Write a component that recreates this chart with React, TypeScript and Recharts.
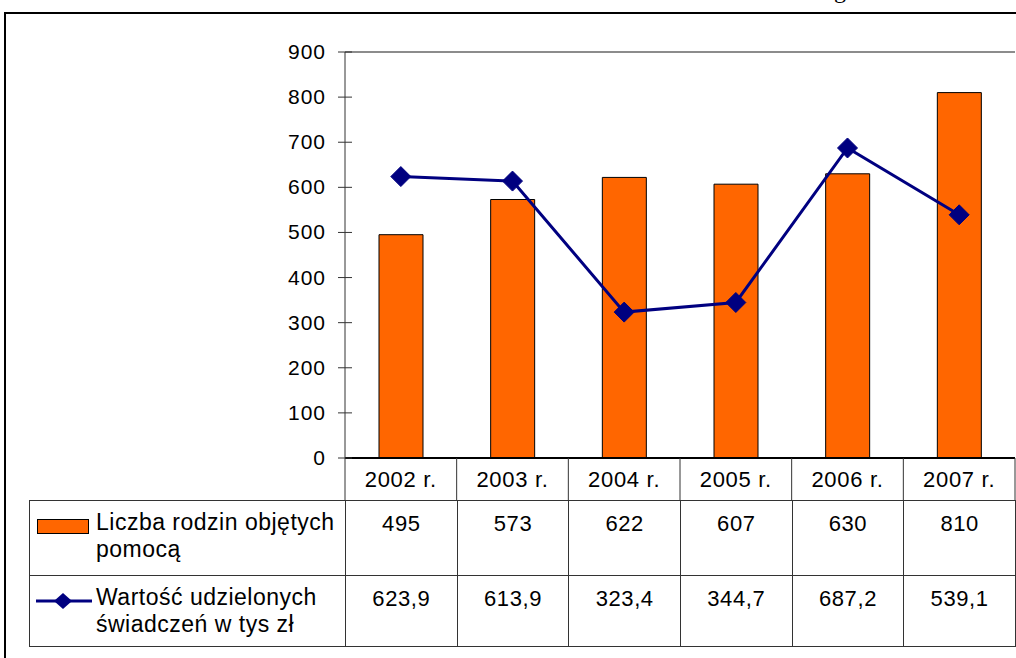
import { Bar, ComposedChart, Line, ReferenceLine, XAxis, YAxis } from "recharts";

const years = ["2002 r.", "2003 r.", "2004 r.", "2005 r.", "2006 r.", "2007 r."];
const families = [495, 573, 622, 607, 630, 810];
const benefits = [623.9, 613.9, 323.4, 344.7, 687.2, 539.1];
const yTicks = [0, 100, 200, 300, 400, 500, 600, 700, 800, 900];

const familiesName = "Liczba rodzin objętych pomocą";
const benefitsName = "Wartość udzielonych świadczeń w tys zł";

const data = years.map((year, i) => ({ year, families: families[i], benefits: benefits[i] }));

const W = 1016;
const H = 658;
const plotLeft = 345;
const plotTop = 52;
const plotBottom = 458;
const plotRight = 1015;
const colW = (plotRight - plotLeft) / years.length;
const font = "'Liberation Sans', Arial, sans-serif";
const orange = "#FF6600";
const navy = "#000080";
const gridInk = "#333";

const fmtPl = (n: number) => n.toFixed(1).replace(".", ",");

function YTick({ x, y, payload }: any) {
  return (
    <g>
      <line x1={x - 7} x2={x + 7} y1={y} y2={y} stroke={gridInk} strokeWidth={1} />
      <text
        x={x - 19}
        y={y + 7}
        textAnchor="end"
        fontSize={21}
        letterSpacing={1}
        fontFamily={font}
        fill="#000"
      >
        {payload.value}
      </text>
    </g>
  );
}

// rok + pionowe kreski tabeli danych w wierszu nagłówka
function XTick({ x, y, payload, index }: any) {
  return (
    <g>
      {index === 0 ? (
        <line x1={x - colW / 2} x2={x - colW / 2} y1={y} y2={y + 42} stroke={gridInk} strokeWidth={1} />
      ) : null}
      <line x1={x + colW / 2} x2={x + colW / 2} y1={y} y2={y + 42} stroke={gridInk} strokeWidth={1} />
      <text
        x={x}
        y={y + 29}
        textAnchor="middle"
        fontSize={22}
        letterSpacing={0.7}
        fontFamily={font}
        fill="#000"
      >
        {payload.value}
      </text>
    </g>
  );
}

function Diamond({ cx, cy, index }: any) {
  if (cx == null || cy == null) return <g key={index} />;
  const r = 10;
  return (
    <polygon
      key={index}
      points={`${cx},${cy - r} ${cx + r},${cy} ${cx},${cy + r} ${cx - r},${cy}`}
      fill={navy}
      stroke={navy}
    />
  );
}

const cell: React.CSSProperties = {
  border: `1px solid ${gridInk}`,
  textAlign: "center",
  verticalAlign: "top",
  paddingTop: 9,
  fontSize: 22,
  letterSpacing: 0.6,
  lineHeight: "27px",
};

const legendCell: React.CSSProperties = {
  ...cell,
  textAlign: "left",
  position: "relative",
  paddingLeft: 66,
  paddingTop: 8,
  fontSize: 23,
  letterSpacing: 0.5,
  whiteSpace: "nowrap",
};

export default function App() {
  return (
    <div style={{ position: "relative", width: W, height: H, overflow: "hidden", fontFamily: font }}>
      <style>{`html,body{margin:0;overflow:hidden;background:#fff}`}</style>

      {/* ucięty tekst dokumentu nad ramką */}
      <div
        style={{
          position: "absolute", left: 834, top: -22, fontSize: 24, lineHeight: "24px",
          fontFamily: "'Liberation Serif', 'Times New Roman', serif",
        }}
      >
        g
      </div>

      {/* ramka wykresu */}
      <div
        style={{
          position: "absolute", left: 4, top: 12, width: 1100, height: 700,
          border: "2px solid #000", boxSizing: "border-box",
        }}
      />

      <div style={{ position: "absolute", left: 0, top: 0 }}>
        <ComposedChart width={W} height={H} data={data} margin={{ top: plotTop, right: W - plotRight, bottom: 0, left: 0 }}>
          <XAxis
            dataKey="year"
            height={H - plotBottom}
            tickLine={false}
            tickSize={0}
            tickMargin={0}
            interval={0}
            axisLine={{ stroke: "#000", strokeWidth: 2 }}
            tick={<XTick />}
          />
          <YAxis
            width={plotLeft}
            domain={[0, 900]}
            ticks={yTicks}
            interval={0}
            tickLine={false}
            tickSize={0}
            tickMargin={0}
            axisLine={{ stroke: gridInk, strokeWidth: 1 }}
            tick={<YTick />}
          />
          <YAxis
            yAxisId="frame"
            orientation="right"
            width={0}
            tick={false}
            tickLine={false}
            axisLine={{ stroke: "#8c8c8c", strokeWidth: 2 }}
          />
          <ReferenceLine y={900} stroke="#8c8c8c" strokeWidth={2} />
          <Bar
            dataKey="families"
            name={familiesName}
            fill={orange}
            stroke="#000"
            strokeWidth={1}
            barSize={44}
            isAnimationActive={false}
          />
          <Line
            dataKey="benefits"
            name={benefitsName}
            type="linear"
            stroke={navy}
            strokeWidth={3}
            dot={(p: any) => <Diamond {...p} key={p.index} />}
            activeDot={false}
            isAnimationActive={false}
          />
        </ComposedChart>
      </div>

      {/* tabela danych */}
      <table
        style={{
          position: "absolute", left: 29, top: 500, width: plotRight - 29 + 1, height: 146,
          borderCollapse: "collapse", tableLayout: "fixed", fontFamily: font, color: "#000",
        }}
      >
        <colgroup>
          <col style={{ width: plotLeft - 29 }} />
          {years.map((y) => (
            <col key={y} style={{ width: colW }} />
          ))}
        </colgroup>
        <tbody>
          <tr style={{ height: 75 }}>
            <td style={legendCell}>
              <div
                style={{
                  position: "absolute", left: 7, top: 18, width: 50, height: 13,
                  background: orange, border: "1px solid #000",
                }}
              />
              {familiesName.replace(" pomocą", "")}
              <br />
              pomocą
            </td>
            {families.map((v, i) => (
              <td key={i} style={cell}>{v}</td>
            ))}
          </tr>
          <tr style={{ height: 71 }}>
            <td style={legendCell}>
              <svg width={58} height={20} style={{ position: "absolute", left: 5, top: 15 }}>
                <line x1={1} x2={57} y1={10} y2={10} stroke={navy} strokeWidth={3} />
                <polygon points="28,2 37,10 28,18 19,10" fill={navy} />
              </svg>
              Wartość udzielonych
              <br />
              świadczeń w tys zł
            </td>
            {benefits.map((v, i) => (
              <td key={i} style={cell}>{fmtPl(v)}</td>
            ))}
          </tr>
        </tbody>
      </table>
    </div>
  );
}
